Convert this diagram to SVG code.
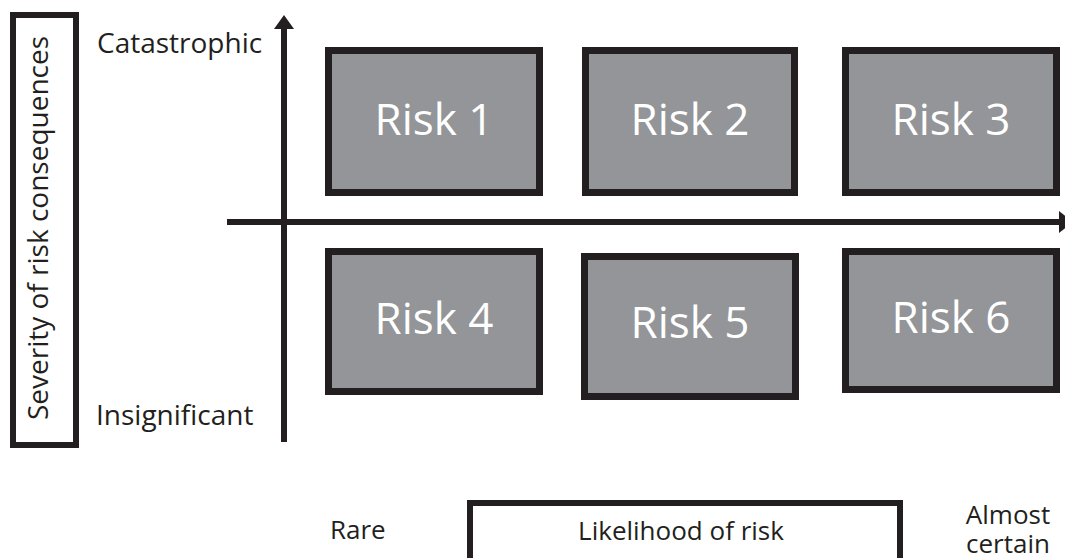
<svg xmlns="http://www.w3.org/2000/svg" width="1065" height="558" viewBox="0 0 1065 558">
<style>
.lbl{font-family:"Open Sans","Noto Sans",sans-serif;font-size:28px;fill:#231f20}
.sm{font-size:26px}
.risk rect{fill:#939598;stroke:#231f20;stroke-width:7}
.risk text{font-family:"Open Sans","Noto Sans",sans-serif;font-size:44px;fill:#ffffff;text-anchor:middle}
.frame{fill:#ffffff;stroke:#231f20;stroke-width:6}
.axis{stroke:#231f20;stroke-width:6;fill:none}
</style>
<rect width="1065" height="558" fill="#ffffff"/>
<g id="severity-label">
<rect class="frame" x="13" y="15" width="63" height="430"/>
<text class="lbl" transform="translate(48,228) rotate(-90)" text-anchor="middle">Severity of risk consequences</text>
</g>
<g id="axis-labels">
<text class="lbl" x="97" y="53">Catastrophic</text>
<text class="lbl" x="96" y="425">Insignificant</text>
<text class="lbl sm" x="330" y="539">Rare</text>
<text class="lbl sm" x="1008" y="524" text-anchor="middle">Almost</text>
<text class="lbl sm" x="1008" y="553" text-anchor="middle">certain</text>
</g>
<g id="likelihood-label">
<rect class="frame" x="470" y="503" width="430" height="80"/>
<text class="lbl sm" x="681" y="540" text-anchor="middle">Likelihood of risk</text>
</g>
<g id="connectors">
<line class="axis" x1="284" y1="442" x2="284" y2="26"/>
<polygon points="284,15 274,29 294,29" fill="#231f20"/>
<line class="axis" x1="227" y1="222" x2="1060" y2="222" stroke-width="7"/>
<polygon points="1073,222 1059,211 1059,233" fill="#231f20"/>
</g>
<g id="risk1" class="risk"><rect x="328.5" y="50.5" width="211" height="142"/><text x="434" y="135">Risk 1</text></g>
<g id="risk2" class="risk"><rect x="585.5" y="50.5" width="209" height="142"/><text x="690" y="135">Risk 2</text></g>
<g id="risk3" class="risk"><rect x="845.5" y="50.5" width="211" height="142"/><text x="951" y="135">Risk 3</text></g>
<g id="risk4" class="risk"><rect x="328.5" y="251.5" width="211" height="140"/><text x="434" y="334">Risk 4</text></g>
<g id="risk5" class="risk"><rect x="584.5" y="256.5" width="211" height="140"/><text x="690" y="338">Risk 5</text></g>
<g id="risk6" class="risk"><rect x="845.5" y="251.5" width="211" height="138"/><text x="951" y="333">Risk 6</text></g>
</svg>
